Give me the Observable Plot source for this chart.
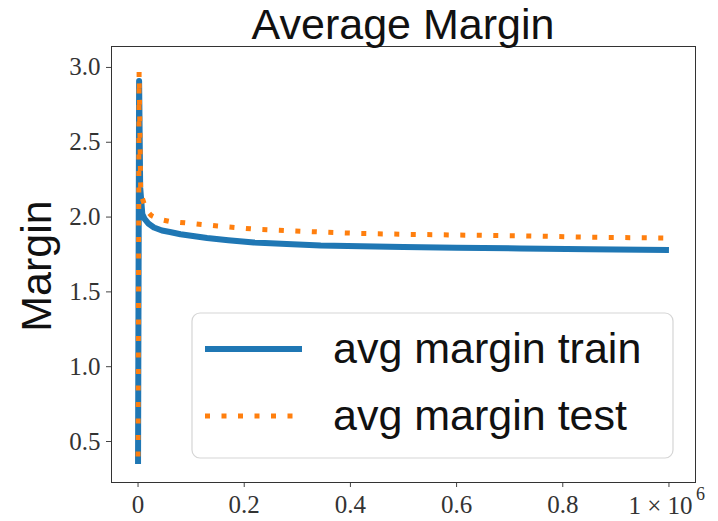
<!DOCTYPE html>
<html>
<head>
<meta charset="utf-8">
<script src="https://cdn.jsdelivr.net/npm/d3@7"></script>
<script src="https://cdn.jsdelivr.net/npm/@observablehq/plot@0.6"></script>
<style>
  html, body { margin: 0; padding: 0; background: #fff; }
</style>
</head>
<body>
<div id="chart"></div>
<script>
// Training steps and average margins for the two series
const steps = [0, 2000, 4000, 8000, 12000, 20000, 30000, 45000, 60000, 80000, 100000, 130000, 170000, 218000, 280000, 344000, 420000, 500000, 600000, 720000, 850000, 1000000];
const trainMargin = [0.35, 2.91, 2.20, 2.02, 1.99, 1.955, 1.93, 1.91, 1.90, 1.885, 1.875, 1.86, 1.845, 1.83, 1.82, 1.81, 1.805, 1.80, 1.795, 1.79, 1.785, 1.78];
const testSteps = [0, 2000, 5000, 15000, 25000, 40000, 60000, 94000, 150000, 218000, 280000, 344000, 420000, 500000, 600000, 720000, 850000, 1000000];
const testMargin = [0.40, 2.97, 2.16, 2.05, 2.01, 1.985, 1.97, 1.96, 1.94, 1.92, 1.91, 1.90, 1.89, 1.885, 1.88, 1.875, 1.865, 1.86];

const xTicks = [0, 200000, 400000, 600000, 800000, 1000000];
const yTicks = [0.5, 1.0, 1.5, 2.0, 2.5, 3.0];
const seriesNames = ["avg margin train", "avg margin test"];
const titleText = "Average Margin";
const yLabel = "Margin";

const blue = "#1f77b4";
const orange = "#ff7f0e";

const train = steps.map((s, i) => ({step: s, margin: trainMargin[i]}));
const test = testSteps.map((s, i) => ({step: s, margin: testMargin[i]}));

const sans = "'Liberation Sans', Arial, sans-serif";
const serif = "'Liberation Serif', 'DejaVu Serif', serif";

// the last tick carries the scale factor, drawn separately with a raised exponent
function xFormat(d) {
  if (d === 0) return "0";
  if (d === 1000000) return "";
  return (d / 1e6).toFixed(1);
}

// Title, y label and legend drawn relative to the plot frame
function decorations(...args) {
  const dims = args.find(a => a && typeof a === "object" && "marginLeft" in a && "width" in a);
  const {width, height, marginLeft, marginRight, marginTop, marginBottom} = dims;
  const left = marginLeft, right = width - marginRight;
  const top = marginTop, bottom = height - marginBottom;
  const g = d3.create("svg:g");

  g.append("text")
    .attr("x", (left + right) / 2)
    .attr("y", top - 7)
    .attr("text-anchor", "middle")
    .attr("font-family", sans)
    .attr("font-size", 43)
    .attr("fill", "#111")
    .text(titleText);

  g.append("text")
    .attr("transform", `translate(${left - 60},${(top + bottom) / 2 + 2}) rotate(-90)`)
    .attr("text-anchor", "middle")
    .attr("font-family", sans)
    .attr("font-size", 43)
    .attr("fill", "#111")
    .text(yLabel);

  // legend box
  const bx0 = left + 81, bx1 = right - 22, by0 = top + 267, by1 = bottom - 24;
  g.append("rect")
    .attr("x", bx0).attr("y", by0)
    .attr("width", bx1 - bx0).attr("height", by1 - by0)
    .attr("rx", 8)
    .attr("fill", "white").attr("fill-opacity", 0.85)
    .attr("stroke", "#d5d5d5").attr("stroke-width", 1.2);

  const rows = [
    {name: seriesNames[0], color: blue, dash: null, y: by0 + 36},
    {name: seriesNames[1], color: orange, dash: "5,11.5", y: by0 + 103}
  ];
  for (const r of rows) {
    const line = g.append("line")
      .attr("x1", bx0 + 13).attr("x2", bx0 + 110)
      .attr("y1", r.y).attr("y2", r.y)
      .attr("stroke", r.color)
      .attr("stroke-width", r.dash ? 5 : 6);
    if (r.dash) line.attr("stroke-dasharray", r.dash);
    g.append("text")
      .attr("x", bx0 + 141)
      .attr("y", r.y + 14)
      .attr("text-anchor", "start")
      .attr("font-family", sans)
      .attr("font-size", 43)
      .attr("fill", "#111")
      .text(r.name);
  }
  return g.node();
}

const chart = Plot.plot({
  width: 718,
  height: 521,
  marginLeft: 111,
  marginRight: 23,
  marginTop: 46,
  marginBottom: 39,
  style: {fontFamily: serif, fontSize: "25px", color: "#333", background: "white"},
  x: {domain: [-50000, 1050000]},
  y: {domain: [0.226, 3.14]},
  marks: [
    Plot.axisX({ticks: xTicks, tickFormat: xFormat, tickSize: 5, tickPadding: 8, label: null, fontSize: 25, stroke: "#444"}),
    Plot.axisY({ticks: yTicks, tickFormat: d3.format(".1f"), tickSize: 5, tickPadding: 6, label: null, fontSize: 25, stroke: "#444"}),
    // scale factor label under the last tick: "1 × 10" plus superscript "6"
    Plot.text([1000000], {x: d => d, frameAnchor: "bottom", text: () => "1 \u00d7 10", textAnchor: "middle", lineAnchor: "top", dy: 14, dx: -8.5, fontSize: 25, fill: "#333"}),
    Plot.text([1000000], {x: d => d, frameAnchor: "bottom", text: () => "6", textAnchor: "start", lineAnchor: "top", dy: 5, dx: 27, fontSize: 18, fill: "#333"}),
    Plot.line(train, {x: "step", y: "margin", stroke: blue, strokeWidth: 6, strokeLinecap: "butt", strokeLinejoin: "round", curve: "linear"}),
    Plot.line(test, {x: "step", y: "margin", stroke: orange, strokeWidth: 5, strokeDasharray: "5,11.5", strokeLinecap: "butt", curve: "linear"}),
    Plot.frame({stroke: "#333", strokeWidth: 1}),
    decorations
  ]
});

document.getElementById("chart").appendChild(chart);
</script>
</body>
</html>
